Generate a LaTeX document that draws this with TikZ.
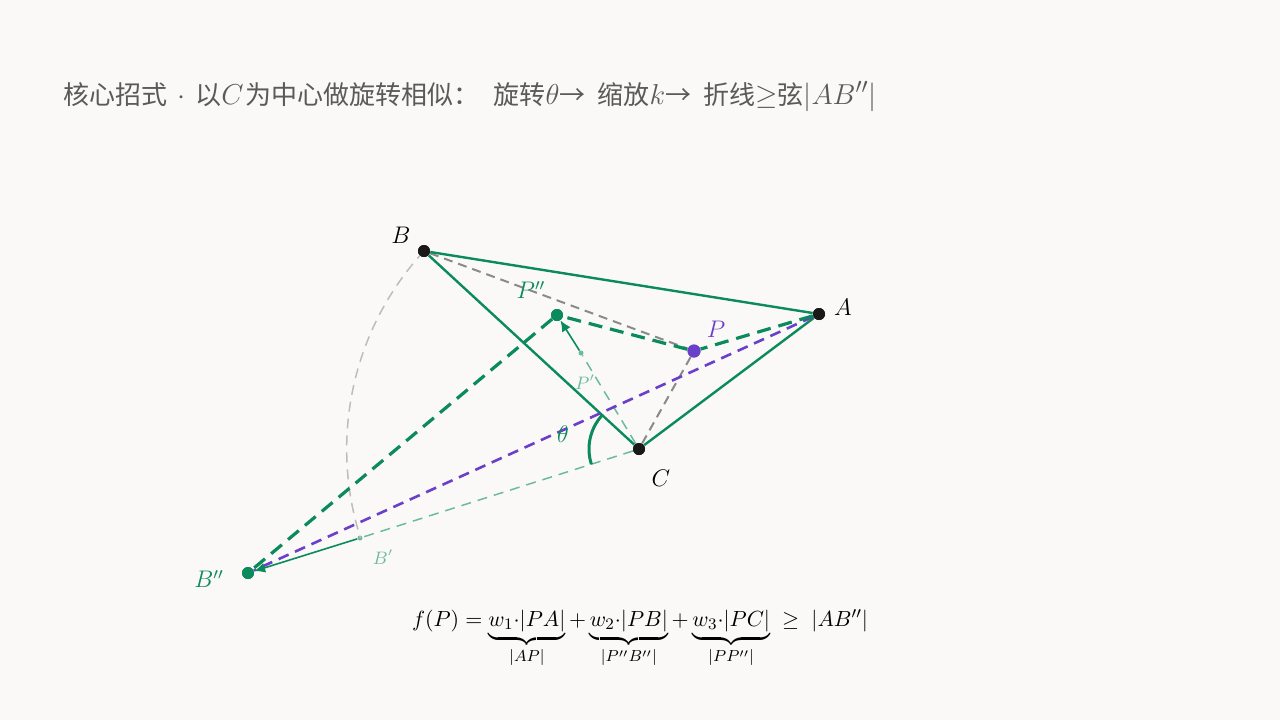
\documentclass[tikz,border=0pt]{standalone}
\usepackage{fontspec}
\usepackage{amsmath}
\newfontfamily\cjk{Noto Sans CJK SC}
\usetikzlibrary{arrows.meta}
\definecolor{bg}{HTML}{FAF9F7}
\definecolor{grn}{HTML}{0B8A5C}
\definecolor{lgrn}{HTML}{6DBB9E}
\definecolor{pur}{HTML}{6A3FC9}
\definecolor{gry}{HTML}{8A8A8A}
\definecolor{lgry}{HTML}{BDBDBD}
\definecolor{ttl}{HTML}{5A5A5A}
\newcommand{\tmath}[1]{{\fontsize{15.8}{18}\selectfont$#1$}}
\tikzset{
  dot/.style={circle,fill=#1,inner sep=0pt,minimum size=6pt},
  tiny/.style={circle,fill=lgrn,inner sep=0pt,minimum size=2.5pt},
  tri/.style={grn,line width=1.2pt},
  thickdash/.style={grn,line width=1.6pt,dash pattern=on 7pt off 4pt},
  purdash/.style={pur,line width=1.3pt,dash pattern=on 5.5pt off 3.5pt},
  grydash/.style={gry,line width=1pt,dash pattern=on 4.5pt off 3pt},
  lgrydash/.style={lgry,line width=0.75pt,dash pattern=on 5pt off 3.5pt},
  lgrndash/.style={lgrn,line width=0.75pt,dash pattern=on 5pt off 3.5pt},
  mvarrow/.style={grn,line width=0.8pt,-{Latex[length=5.5pt,width=5pt]}},
  lbl/.style={font=\fontsize{12}{14}\selectfont},
  slbl/.style={font=\fontsize{9}{11}\selectfont,text=lgrn},
}
\begin{document}
\begin{tikzpicture}[x=0.5pt,y=-0.5pt]
\fill[bg] (0,0) rectangle (1280,720);
\useasboundingbox (0,0) rectangle (1280,720);

% points
\node[dot=black!90] (A) at (819,314) {};
\node[dot=black!90] (B) at (424,251) {};
\node[dot=black!90] (C) at (639,449) {};
\node[dot=pur,minimum size=6.5pt] (P) at (694,351) {};
\node[dot=grn] (P2) at (557,315) {};
\node[tiny] (P1) at (581,353) {};
\node[tiny] (B1) at (360,538) {};
\node[dot=grn] (B2) at (248,573) {};

% rotation arc B -> B'
\draw[lgrydash] (B.center) arc[start angle=222.64, end angle=162.3, radius=292.5];
% thin light green rays
\draw[lgrndash] (C) -- (B1);
\draw[lgrndash] (C) -- (P1);
% gray dashed
\draw[grydash] (B) -- (P);
\draw[grydash] (P) -- (C);
% triangle
\draw[tri] (A) -- (B) -- (C) -- (A);
% chord
\draw[purdash] (A) -- (B2);
% broken line
\draw[thickdash] (A) -- (P);
\draw[thickdash] (P) -- (P2);
\draw[thickdash] (P2) -- (B2);
% scaling arrows
\draw[mvarrow] (P1) -- (P2);
\draw[mvarrow] (B1) -- (B2);
% angle
\draw[grn,line width=1.5pt] (C.center) ++(222.64:50) coordinate (th1) arc[start angle=222.64, end angle=162.3, radius=50];

% redraw dots on top
\node[dot=black!90] at (A) {};
\node[dot=black!90] at (B) {};
\node[dot=black!90] at (C) {};
\node[dot=pur,minimum size=6.5pt] at (P) {};
\node[dot=grn] at (P2) {};
\node[dot=grn] at (B2) {};

% labels
\node[lbl] (lA) at (843,307) {$A$};
\node[lbl] (lB) at (401,235) {$B$};
\node[lbl] (lC) at (661,478) {$C$};
\node[lbl,text=pur] (lP) at (716,329) {$P$};
\node[lbl,text=grn] (lP2) at (531,290) {$P''$};
\node[slbl] (lP1) at (585,382) {$P'$};
\node[slbl] (lB1) at (383,557) {$B'$};
\node[lbl,text=grn] (lB2) at (209,579) {$B''$};
\node[lbl,text=grn] (lth) at (563,434) {$\theta$};

% title
\node[anchor=base west,text=ttl,font=\fontsize{13}{16}\selectfont,inner sep=0pt] (title) at (63,104)
  {{\cjk 核心招式}\hspace{5pt}\tmath{\cdot}\hspace{5pt}{\cjk 以}\tmath{C}\hspace{1pt}{\cjk 为中心做旋转相似：}\hspace{7pt}{\cjk 旋转}\tmath{\theta}{\cjk →}\hspace{6pt}{\cjk 缩放}\tmath{k}{\cjk →}\hspace{6pt}{\cjk 折线}\tmath{\geq}{\cjk 弦}\tmath{|AB''|}};

% formula
\node[anchor=base,font=\fontsize{11.4}{14}\selectfont,inner sep=0pt] (formula) at (640,626)
  {$f(P)=\underbrace{w_1{\cdot}|PA|}_{|AP|}+\underbrace{w_2{\cdot}|PB|}_{|P''B''|}+\underbrace{w_3{\cdot}|PC|}_{|PP''|}\;\geq\;|AB''|$};
\end{tikzpicture}
\end{document}
